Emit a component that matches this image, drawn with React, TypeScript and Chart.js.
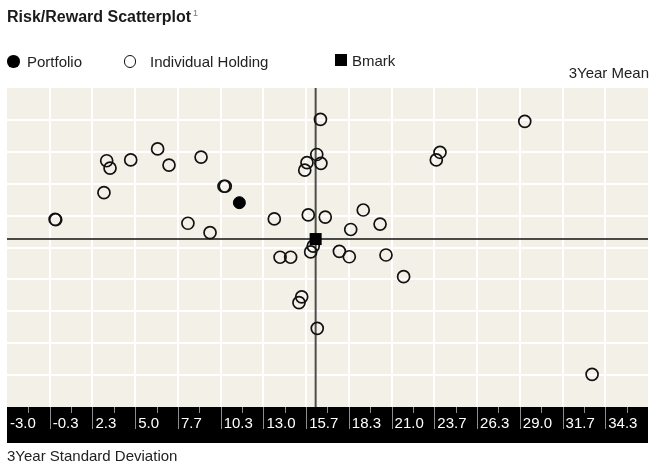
import React, { useEffect, useRef } from 'react';
import { Chart, registerables } from 'chart.js';

Chart.register(...registerables);

// ---- axis definitions ----
const X_MIN = -3.0;
const X_MAX = 37.0;
const X_STEP = 8 / 3;
const xTickLabels = ['-3.0', '-0.3', '2.3', '5.0', '7.7', '10.3', '13.0', '15.7', '18.3', '21.0', '23.7', '26.3', '29.0', '31.7', '34.3'];
const Y_MIN = -10;
const Y_MAX = 10;
const Y_STEP = 2;

// ---- data (3Year Standard Deviation, 3Year Mean) ----
const holdingX = [0.0, 0.04, 3.22, 3.43, 4.72, 3.05, 6.40, 7.11, 9.11, 10.54, 10.62, 8.29, 9.67, 13.68, 15.80, 16.86, 16.56, 16.33, 15.72, 15.58, 16.59, 29.31, 24.02, 23.79, 19.23, 18.45, 20.28, 16.11, 15.95, 14.04, 14.70, 17.74, 18.36, 20.65, 21.75, 15.39, 15.22, 16.36, 33.51];
const holdingY = [1.77, 1.74, 5.44, 4.98, 5.49, 3.44, 6.18, 5.17, 5.67, 3.84, 3.84, 1.52, 0.93, 1.79, 2.04, 1.91, 8.03, 5.83, 5.32, 4.85, 5.28, 7.91, 5.97, 5.49, 2.35, 1.13, 1.47, 0.09, -0.28, -0.61, -0.61, -0.24, -0.58, -0.47, -1.83, -3.09, -3.46, -5.07, -7.95];
const portfolioX = [11.50];
const portfolioY = [2.81];
const bmarkX = [16.26];
const bmarkY = [0.53];

const FONT = '"Liberation Sans", Arial, Helvetica, sans-serif';
const PLOT_BG = '#f3f1e7';
const BAND_H = 36;

const bandPlugin = {
  id: 'bandPlugin',
  beforeDraw(chart: any) {
    const { ctx, chartArea: a, scales } = chart;
    const xs = scales.x;
    ctx.save();
    ctx.fillStyle = PLOT_BG;
    ctx.fillRect(a.left, a.top, a.right - a.left, a.bottom - a.top);
    ctx.fillStyle = '#000';
    ctx.fillRect(a.left, a.bottom, a.right - a.left, BAND_H);
    ctx.strokeStyle = '#8c8c8c';
    ctx.lineWidth = 1;
    xs.ticks.forEach((t: any, i: number) => {
      const px = Math.round(xs.getPixelForValue(t.value)) + 0.5;
      if (i > 0) {
        ctx.beginPath();
        ctx.moveTo(px, a.bottom);
        ctx.lineTo(px, a.bottom + 22);
        ctx.stroke();
      }
      const mx = Math.round(xs.getPixelForValue(t.value + X_STEP / 2)) + 0.5;
      ctx.beginPath();
      ctx.moveTo(mx, a.bottom);
      ctx.lineTo(mx, a.bottom + 6);
      ctx.stroke();
    });
    ctx.restore();
  },
  beforeDatasetsDraw(chart: any) {
    const { ctx, chartArea: a, scales } = chart;
    const bx = scales.x.getPixelForValue(bmarkX[0]);
    const by = scales.y.getPixelForValue(bmarkY[0]);
    ctx.save();
    ctx.strokeStyle = '#4d4d4d';
    ctx.lineWidth = 2;
    ctx.beginPath();
    ctx.moveTo(bx, a.top);
    ctx.lineTo(bx, a.bottom);
    ctx.stroke();
    ctx.strokeStyle = '#111';
    ctx.lineWidth = 1.6;
    ctx.beginPath();
    ctx.moveTo(a.left, by);
    ctx.lineTo(a.right, by);
    ctx.stroke();
    ctx.restore();
  },
};

export default function App() {
  const canvasRef = useRef<HTMLCanvasElement | null>(null);

  useEffect(() => {
    if (!canvasRef.current) return;
    const chart = new Chart(canvasRef.current, {
      type: 'scatter',
      data: {
        datasets: [
          {
            label: 'Bmark',
            data: bmarkX.map((x, i) => ({ x, y: bmarkY[i] })),
            pointStyle: 'rect',
            pointRadius: 8.5,
            backgroundColor: '#000',
            borderColor: '#000',
            borderWidth: 0,
          },
          {
            label: 'Portfolio',
            data: portfolioX.map((x, i) => ({ x, y: portfolioY[i] })),
            pointStyle: 'circle',
            pointRadius: 6,
            backgroundColor: '#000',
            borderColor: '#000',
            borderWidth: 1,
          },
          {
            label: 'Individual Holding',
            data: holdingX.map((x, i) => ({ x, y: holdingY[i] })),
            pointStyle: 'circle',
            pointRadius: 6,
            backgroundColor: 'rgba(0,0,0,0)',
            borderColor: '#111',
            borderWidth: 1.7,
          },
        ],
      },
      options: {
        animation: false,
        responsive: false,
        maintainAspectRatio: false,
        devicePixelRatio: 1,
        events: [],
        layout: { autoPadding: false, padding: { left: 7, right: 2, top: 88, bottom: 0 } },
        plugins: {
          legend: { display: false },
          tooltip: { enabled: false },
          title: { display: false },
        },
        scales: {
          x: {
            type: 'linear',
            position: 'bottom',
            min: X_MIN,
            max: X_MAX,
            afterBuildTicks: (scale: any) => {
              scale.ticks = xTickLabels.map((_, i) => ({ value: X_MIN + i * X_STEP }));
            },
            afterFit: (scale: any) => {
              scale.height = 59;
              scale.paddingLeft = 0;
              scale.paddingRight = 0;
            },
            ticks: {
              autoSkip: false,
              maxRotation: 0,
              minRotation: 0,
              align: 'start',
              labelOffset: 3,
              padding: 0,
              color: '#ffffff',
              font: { family: FONT, size: 15, lineHeight: '34px' },
              callback: (_v: any, index: number) => xTickLabels[index],
            },
            grid: {
              drawTicks: false,
              lineWidth: 2,
              color: (ctx: any) => (ctx.index === 0 ? 'rgba(0,0,0,0)' : '#ffffff'),
            },
            border: { display: false },
            title: {
              display: true,
              text: '3Year Standard Deviation',
              align: 'start',
              color: '#222',
              font: { family: FONT, size: 15 },
              padding: { top: 0, bottom: 0 },
            },
          },
          y: {
            type: 'linear',
            min: Y_MIN,
            max: Y_MAX,
            afterFit: (scale: any) => {
              scale.width = 0;
              scale.paddingTop = 0;
              scale.paddingBottom = 0;
            },
            ticks: { display: false, stepSize: Y_STEP },
            grid: {
              drawTicks: false,
              lineWidth: 2,
              color: (ctx: any) =>
                ctx.tick && (ctx.tick.value === Y_MIN || ctx.tick.value === Y_MAX) ? 'rgba(0,0,0,0)' : '#ffffff',
            },
            border: { display: false },
          },
        },
      },
      plugins: [bandPlugin],
    } as any);
    return () => chart.destroy();
  }, []);

  const text: React.CSSProperties = {
    position: 'absolute',
    fontFamily: FONT,
    fontSize: 15,
    lineHeight: '15px',
    color: '#222',
    whiteSpace: 'nowrap',
  };

  return (
    <div style={{ position: 'absolute', left: 0, top: 0, width: 650, height: 466, background: '#fff', overflow: 'hidden' }}>
      <canvas ref={canvasRef} width={650} height={466} style={{ position: 'absolute', left: 0, top: 0, display: 'block' }} />
      <div style={{ ...text, left: 7, top: 9, fontSize: 16, lineHeight: '16px', fontWeight: 'bold', color: '#1a1a1a' }}>
        Risk/Reward Scatterplot
        <span style={{ fontSize: 9, fontWeight: 'normal', color: '#777', verticalAlign: 'top', marginLeft: 2, lineHeight: '9px' }}>1</span>
      </div>
      <span style={{ position: 'absolute', left: 7, top: 55, width: 12.5, height: 12.5, borderRadius: '50%', background: '#000' }} />
      <div style={{ ...text, left: 27, top: 54 }}>Portfolio</div>
      <span style={{ position: 'absolute', left: 123.5, top: 55, width: 12.5, height: 12.5, borderRadius: '50%', border: '1.6px solid #111', boxSizing: 'border-box' }} />
      <div style={{ ...text, left: 150, top: 54 }}>Individual Holding</div>
      <span style={{ position: 'absolute', left: 335, top: 54, width: 12, height: 12, background: '#000' }} />
      <div style={{ ...text, left: 352, top: 53 }}>Bmark</div>
      <div style={{ ...text, right: 1, top: 65 }}>3Year Mean</div>
    </div>
  );
}
